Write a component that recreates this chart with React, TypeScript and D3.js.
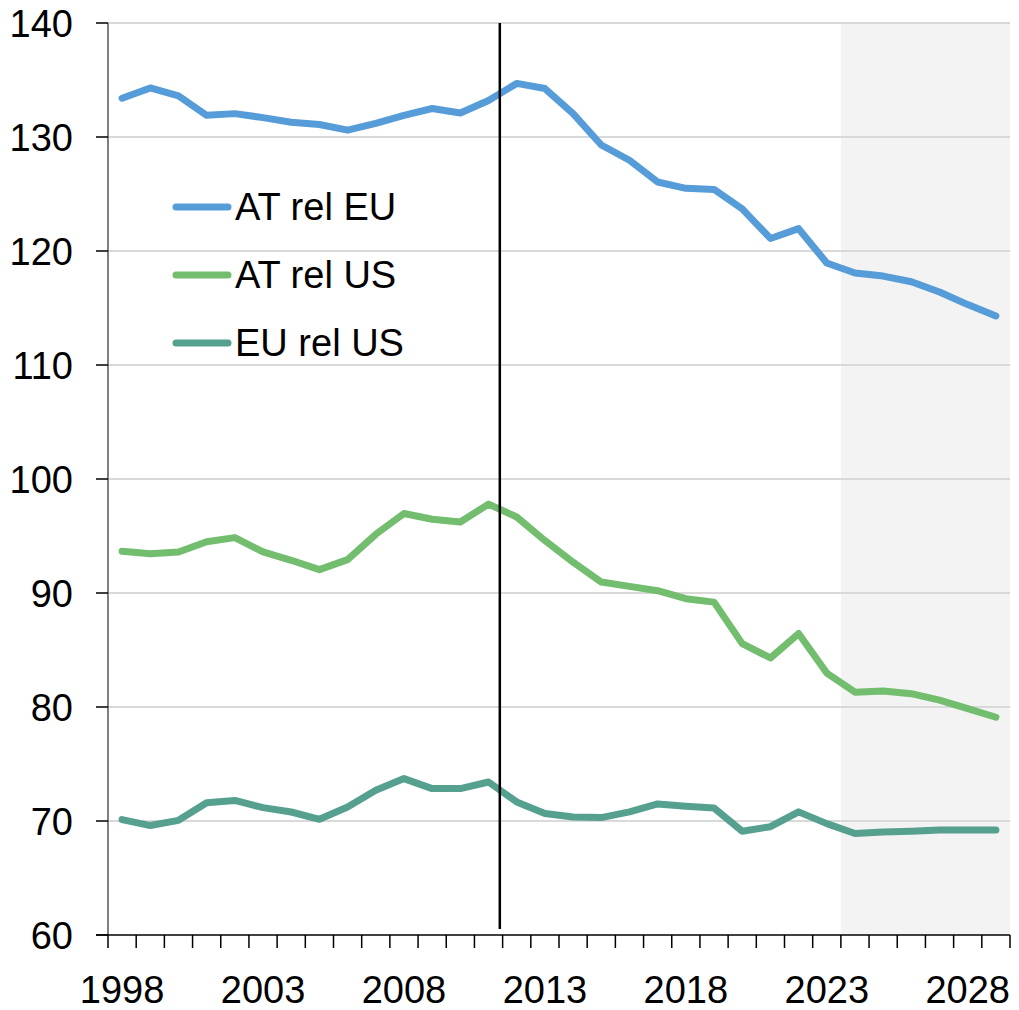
import React from "react";
import * as d3 from "d3";

const years: string[] = d3.range(1998, 2030).map(String);

const atRelEU: number[] = [133.4, 134.3, 133.6, 131.9, 132.05, 131.7, 131.3, 131.1, 130.6, 131.2, 131.9, 132.5, 132.1, 133.2, 134.7, 134.25, 132.05, 129.3, 127.96, 126.05, 125.5, 125.4, 123.7, 121.1, 121.96, 118.95, 118.07, 117.8, 117.3, 116.4, 115.3, 114.3];
const atRelUS: number[] = [93.66, 93.45, 93.6, 94.5, 94.86, 93.6, 92.87, 92.05, 92.93, 95.15, 96.97, 96.47, 96.23, 97.8, 96.67, 94.6, 92.7, 90.96, 90.58, 90.2, 89.5, 89.2, 85.56, 84.3, 86.44, 82.98, 81.3, 81.4, 81.17, 80.6, 79.86, 79.1];
const euRelUS: number[] = [70.12, 69.6, 70.06, 71.6, 71.8, 71.17, 70.79, 70.15, 71.23, 72.7, 73.72, 72.84, 72.84, 73.42, 71.67, 70.65, 70.35, 70.3, 70.8, 71.5, 71.3, 71.14, 69.1, 69.5, 70.8, 69.77, 68.9, 69.03, 69.1, 69.2, 69.2, 69.2];

const seriesNames: string[] = ["AT rel EU", "AT rel US", "EU rel US"];
const seriesColors: string[] = ["#569CD8", "#72BD6E", "#56A08F"];
const yTicks: number[] = [60, 70, 80, 90, 100, 110, 120, 130, 140];
const xLabelYears: string[] = ["1998", "2003", "2008", "2013", "2018", "2023", "2028"];
const forecastStart = "2024";
const markerYear = "2011";

export default function App() {
  const W = 1019, H = 1010;
  const left = 108, right = 1010, top = 23, bottom = 935;
  const x = d3.scaleBand<string>().domain(years).range([left, right]).padding(0);
  const y = d3.scaleLinear().domain([60, 140]).range([bottom, top]);
  const bw = x.bandwidth();
  const cx = (yr: string) => (x(yr) as number) + bw / 2;
  const all = [atRelEU, atRelUS, euRelUS];
  const line = d3.line<number>().x((_, i) => cx(years[i])).y((v) => y(v));
  const font = "'Liberation Sans', Arial, sans-serif";
  const markerX = (x(markerYear) as number) + bw * 0.9;
  const boundaries = d3.range(years.length + 1).map((i) => left + i * bw);

  return (
    <svg width={W} height={H} style={{ position: "absolute", left: 0, top: 0, background: "#fff" }}>
      <rect x={x(forecastStart) as number} y={top} width={right - (x(forecastStart) as number)} height={bottom - top} fill="#f3f3f3" />
      {yTicks.filter((t) => t > 60).map((t) => (
        <line key={t} x1={left} x2={right} y1={y(t)} y2={y(t)} stroke="#d9d9d9" strokeWidth={2} />
      ))}
      {all.map((s, i) => (
        <path key={i} d={line(s) || ""} fill="none" stroke={seriesColors[i]} strokeWidth={7} strokeLinejoin="round" strokeLinecap="round" />
      ))}
      <line x1={markerX} x2={markerX} y1={top} y2={929} stroke="#000" strokeWidth={2.5} />
      <line x1={left} x2={left} y1={top} y2={bottom} stroke="#808080" strokeWidth={2} />
      {yTicks.map((t) => (
        <g key={t}>
          <line x1={96} x2={left} y1={y(t)} y2={y(t)} stroke="#000" strokeWidth={1.5} />
          <text x={73} y={y(t)} dy="0.36em" textAnchor="end" fontFamily={font} fontSize={38} fill="#000">{t}</text>
        </g>
      ))}
      <line x1={96} x2={right} y1={bottom} y2={bottom} stroke="#000" strokeWidth={1.5} />
      {boundaries.map((b, i) => (
        <line key={i} x1={b} x2={b} y1={bottom} y2={948} stroke="#000" strokeWidth={1.5} />
      ))}
      {xLabelYears.map((yr) => (
        <text key={yr} x={cx(yr)} y={1003} textAnchor="middle" fontFamily={font} fontSize={38} fill="#000">{yr}</text>
      ))}
      {seriesNames.map((n, i) => (
        <g key={n}>
          <line x1={176} x2={228} y1={207 + i * 68} y2={207 + i * 68} stroke={seriesColors[i]} strokeWidth={7} strokeLinecap="round" />
          <text x={235} y={207 + i * 68 + 13} fontFamily={font} fontSize={38} fill="#000">{n}</text>
        </g>
      ))}
    </svg>
  );
}
